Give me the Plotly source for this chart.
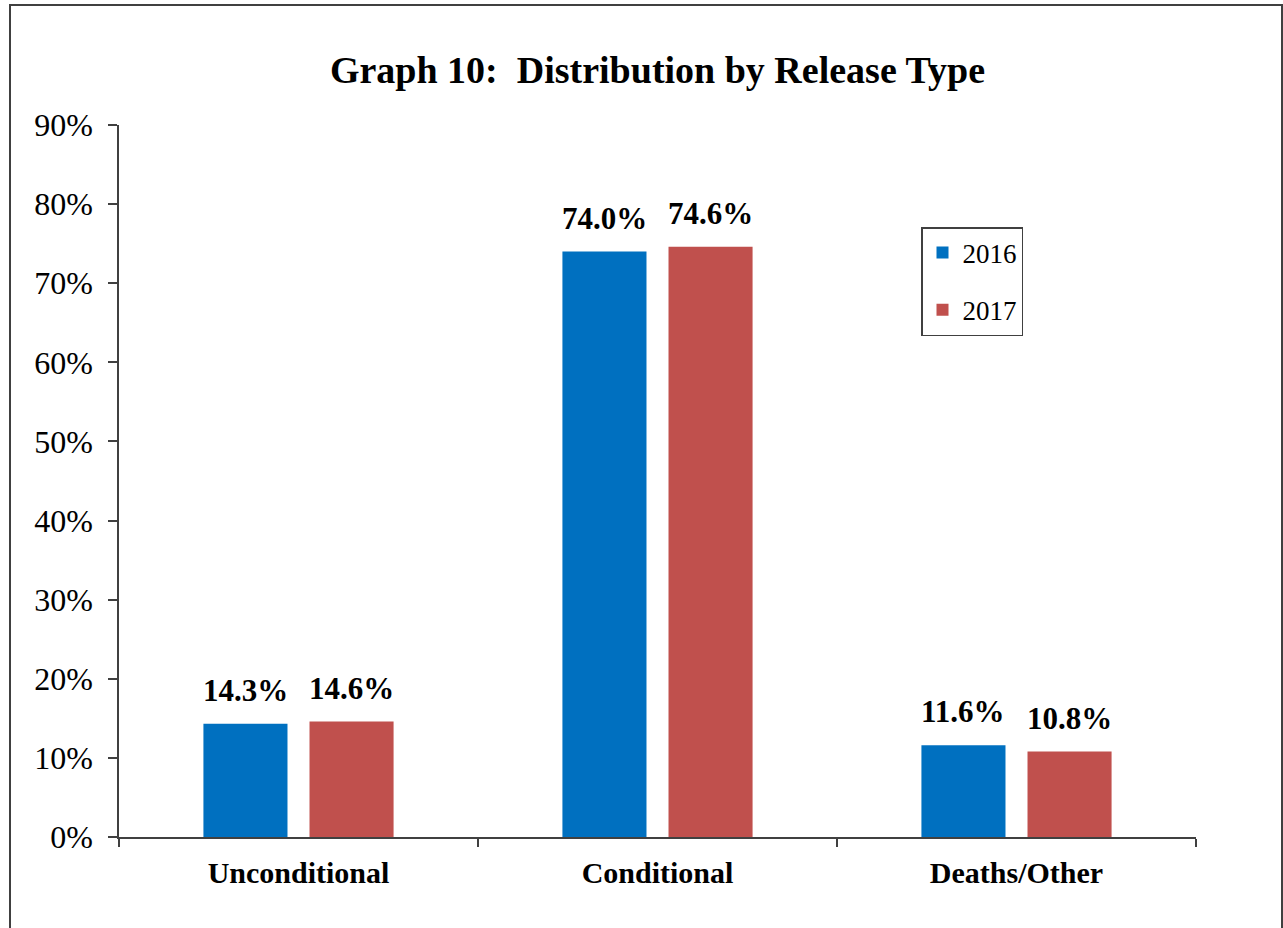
import plotly.graph_objects as go

categories = ["Unconditional", "Conditional", "Deaths/Other"]
years = ["2016", "2017"]
values_2016 = [14.3, 74.0, 11.6]
values_2017 = [14.6, 74.6, 10.8]
colors = ["#0070C0", "#C0504D"]

FONT = "Liberation Serif, Times New Roman, serif"

W, H = 1283, 928
ML, MR, MT, MB = 119, 87, 125, 91
BARGAP, BARGROUPGAP = 0.409, 0.2075

plot_w = W - ML - MR
plot_h = H - MT - MB
slot_px = plot_w / len(categories) * (1 - BARGAP) / len(years)

fig = go.Figure()
for name, vals, col in zip(years, [values_2016, values_2017], colors):
    fig.add_trace(go.Bar(
        x=categories, y=vals, name=name, legendgroup=name,
        marker=dict(color=col, line=dict(width=0)),
    ))

annotations = []
for i, vals in enumerate([values_2016, values_2017]):
    shift = (i - (len(years) - 1) / 2) * slot_px
    for cat, v in zip(categories, vals):
        annotations.append(dict(
            x=cat, y=v, xref="x", yref="y", text=f"<b>{v:.1f}%</b>",
            showarrow=False, xshift=shift, yshift=14, yanchor="bottom",
            font=dict(family=FONT, size=31, color="black"),
        ))

# outer frame (in pixels of the page), converted to paper coordinates
fx0, fx1, fy0, fy1 = 10, 1282, 5, 940
fig.update_layout(
    width=W, height=H,
    margin=dict(l=ML, r=MR, t=MT, b=MB),
    paper_bgcolor="white", plot_bgcolor="white",
    font=dict(family=FONT, color="black"),
    barmode="group", bargap=BARGAP, bargroupgap=BARGROUPGAP,
    title=dict(text="<b>Graph 10:&nbsp; Distribution by Release Type</b>",
               x=0.5, xref="paper", xanchor="center",
               y=1 - 70 / H, yref="container", yanchor="middle",
               font=dict(family=FONT, size=38, color="black")),
    showlegend=True,
    legend=dict(x=(921 - ML) / plot_w, y=(H - MB - 227) / plot_h,
                xanchor="left", yanchor="top",
                bgcolor="white", bordercolor="#404040", borderwidth=1.5,
                font=dict(family=FONT, size=27, color="black"),
                tracegroupgap=19, itemsizing="constant"),
    xaxis=dict(type="category", showline=True, linecolor="#404040", linewidth=1.5,
               ticks="outside", tickson="boundaries", ticklen=8, tickcolor="#404040",
               tickwidth=1.5, showgrid=False, ticklabelstandoff=8,
               tickfont=dict(family=FONT, size=30, color="black", weight="bold")),
    yaxis=dict(range=[0, 90], dtick=10, ticksuffix="%", showline=True,
               linecolor="#404040", linewidth=1.5, ticks="outside", ticklen=9,
               tickcolor="#404040", tickwidth=1.5, showgrid=False, zeroline=False,
               ticklabelstandoff=9,
               tickfont=dict(family=FONT, size=32, color="black")),
    annotations=annotations,
    shapes=[dict(type="rect", xref="paper", yref="paper",
                 x0=(fx0 - ML) / plot_w, x1=(fx1 - ML) / plot_w,
                 y0=(H - MB - fy1) / plot_h, y1=(H - MB - fy0) / plot_h,
                 line=dict(color="#404040", width=2), fillcolor="rgba(0,0,0,0)",
                 layer="below")],
)

fig.write_html("out.html", config={"displayModeBar": False},
               post_script="document.body.style.margin='0px';document.body.style.padding='0px';")
